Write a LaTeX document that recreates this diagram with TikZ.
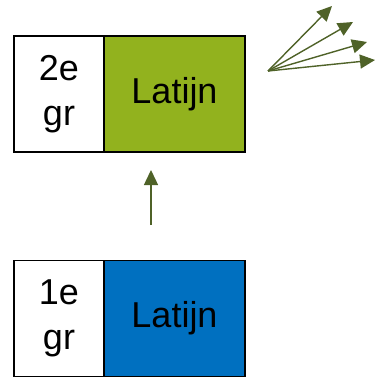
\documentclass[tikz,border=0pt]{standalone}
\usepackage{fontspec}
\setmainfont{Liberation Sans}
\usepackage{tikz}
\usetikzlibrary{arrows.meta}
\definecolor{olijf}{HTML}{4F6228}
\definecolor{latgroen}{HTML}{92B21E}
\definecolor{latblauw}{HTML}{0070C0}
\tikzset{%
    cel/.style={draw=black, line width=1.5pt, inner sep=0pt, minimum height=116pt,
        align=center, font=\fontsize{36}{45}\selectfont},
    klas/.style={cel, fill=white, minimum width=90pt},
    vak/.style={cel, minimum width=141pt},
    pijl/.style={olijf, line width=1.4pt, -{Triangle[length=15pt,width=14pt]}}
}
\begin{document}
\begin{tikzpicture}[x=1pt,y=-1pt]
    \useasboundingbox (0,0) rectangle (375,378);
    % tweede jaar
    \node[klas] (gr2) at (59,94) {2e\\gr};
    \node[vak,fill=latgroen] (lat2) at (174.5,94) {Latijn};
    % eerste jaar
    \node[klas] (gr1) at (59,318.5) {1e\\gr};
    \node[vak,fill=latblauw] (lat1) at (174.5,318.5) {Latijn};
    % pijl omhoog
    \coordinate (van) at (151,225);
    \coordinate (naar) at (151,170);
    \draw[pijl] (van)--(naar);
    % waaier
    \coordinate (bron) at (268,71);
    \coordinate (w1) at (332,6);
    \coordinate (w2) at (353,22);
    \coordinate (w3) at (367,42);
    \coordinate (w4) at (375,60);
    \draw[pijl] (bron)--(w1);
    \draw[pijl] (bron)--(w2);
    \draw[pijl] (bron)--(w3);
    \draw[pijl] (bron)--(w4);
\end{tikzpicture}
\end{document}
